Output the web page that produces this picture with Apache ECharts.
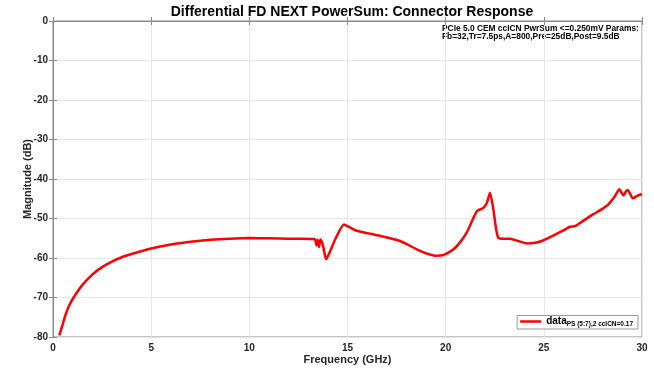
<!DOCTYPE html>
<html>
<head>
<meta charset="utf-8">
<script src="https://cdn.jsdelivr.net/npm/echarts@6/dist/echarts.min.js"></script>
<style>
  html, body { margin: 0; padding: 0; background: #fff; }
  #main { width: 654px; height: 370px; }
</style>
</head>
<body>
<div id="main"></div>
<script>
// frequency points (GHz)
var freq = [0.32, 0.45, 0.6, 0.8, 1.05, 1.5, 2, 2.5, 3, 3.5, 4, 5, 6, 7, 8, 9, 10, 11, 12, 13.2,
  13.35, 13.42, 13.48, 13.55, 13.62, 13.7, 13.78, 13.91, 14.1, 14.4, 14.82, 15.1, 15.47, 16, 16.66,
  17.68, 18.53, 19, 19.46, 19.9, 20.4, 20.8, 21.1, 21.4, 21.6, 21.92, 22.1, 22.26, 22.43, 22.55, 22.68,
  23, 23.28, 23.7, 24.13, 24.5, 24.9, 25.5, 26, 26.34, 26.6, 27, 27.53, 28, 28.29, 28.6, 28.85,
  28.95, 29.06, 29.17, 29.27, 29.4, 29.53, 29.75, 29.99];
// magnitude (dB)
var magnitude = [-79.6, -77.5, -75, -72.3, -70, -66.8, -64.2, -62.3, -60.9, -59.8, -59, -57.6, -56.6, -55.9, -55.4, -55.1, -54.95, -55, -55.1, -55.2,
  -55.3, -56.8, -55.4, -57.2, -55.3, -56, -57.5, -60.3, -58.5, -55, -51.5, -52.2, -53.1, -53.7, -54.4,
  -55.7, -57.8, -58.8, -59.4, -59.2, -57.8, -55.6, -53.3, -50, -48.1, -47.3, -46, -43.5, -47.7, -52, -54.9,
  -55.1, -55.1, -55.7, -56.3, -56.2, -55.7, -54.3, -53, -52.1, -51.9, -50.6, -48.9, -47.5, -46.4, -44.5, -42.6,
  -43.4, -44.2, -43.2, -42.8, -43.8, -44.9, -44.3, -43.8];

var xTicks = [0, 30, 5];
var yTicks = [-80, 0, 10];

var chart = echarts.init(document.getElementById('main'), null, { renderer: 'canvas' });

var seriesData = freq.map(function (f, i) { return [f, magnitude[i]]; });

var font = 'Liberation Sans, Arial, sans-serif';
var axisGray = '#8a8a8a';
var gridGray = '#e6e6e6';
var labelColor = '#262626';

chart.setOption({
  backgroundColor: '#fff',
  animation: false,
  title: {
    text: 'Differential FD NEXT PowerSum: Connector Response',
    left: 347,
    textAlign: 'center',
    top: 0,
    textStyle: { fontFamily: font, fontSize: 14, fontWeight: 'bold', color: '#000' }
  },
  grid: { left: 53, right: 12, top: 21, bottom: 32, show: true, borderColor: axisGray, borderWidth: 1 },
  legend: {
    right: 16,
    bottom: 41,
    orient: 'vertical',
    icon: 'rect',
    itemWidth: 21,
    itemHeight: 2.5,
    itemGap: 0,
    padding: [1, 5, 1, 3],
    borderColor: '#999',
    borderWidth: 1,
    backgroundColor: '#fff',
    formatter: function () { return '{a|data}{b|PS (5:7),2 ccICN=0.17}'; },
    textStyle: {
      fontFamily: font,
      color: '#000',
      rich: {
        a: { fontSize: 10, fontWeight: 'bold', fontFamily: font, color: '#000' },
        b: { fontSize: 6.5, fontWeight: 'bold', fontFamily: font, color: '#000', padding: [6, 0, 0, 0] }
      }
    },
    data: ['data']
  },
  xAxis: [{
    type: 'value',
    min: xTicks[0], max: xTicks[1], interval: xTicks[2],
    name: 'Frequency (GHz)',
    nameLocation: 'middle',
    nameGap: 17,
    nameMoveOverlap: false,
    nameTextStyle: { fontFamily: font, fontSize: 11, fontWeight: 'bold', color: labelColor },
    axisLine: { show: true, lineStyle: { color: axisGray } },
    axisTick: { show: true, inside: true, length: 4, lineStyle: { color: axisGray } },
    axisLabel: { fontFamily: font, fontSize: 10, fontWeight: 'bold', color: labelColor, margin: 6 },
    splitLine: { show: true, lineStyle: { color: gridGray } }
  }, {
    type: 'value', position: 'top',
    min: xTicks[0], max: xTicks[1], interval: xTicks[2],
    axisLine: { show: true, lineStyle: { color: axisGray } },
    axisTick: { show: true, inside: true, length: 4, lineStyle: { color: axisGray } },
    axisLabel: { show: false },
    splitLine: { show: false }
  }],
  yAxis: [{
    type: 'value',
    min: yTicks[0], max: yTicks[1], interval: yTicks[2],
    name: 'Magnitude (dB)',
    nameLocation: 'middle',
    nameGap: 20,
    nameMoveOverlap: false,
    nameTextStyle: { fontFamily: font, fontSize: 11, fontWeight: 'bold', color: labelColor },
    axisLine: { show: true, lineStyle: { color: axisGray } },
    axisTick: { show: true, inside: true, length: 4, lineStyle: { color: axisGray } },
    axisLabel: { fontFamily: font, fontSize: 10, fontWeight: 'bold', color: labelColor, margin: 5 },
    splitLine: { show: true, lineStyle: { color: gridGray } }
  }, {
    type: 'value', position: 'right',
    min: yTicks[0], max: yTicks[1], interval: yTicks[2],
    axisLine: { show: true, lineStyle: { color: axisGray } },
    axisTick: { show: true, inside: true, length: 4, lineStyle: { color: axisGray } },
    axisLabel: { show: false },
    splitLine: { show: false }
  }],
  graphic: [{
    type: 'text',
    left: 442,
    top: 25,
    style: {
      text: 'PCIe 5.0 CEM ccICN PwrSum <=0.250mV Params:\nFb=32,Tr=7.5ps,A=800,Pre=25dB,Post=9.5dB',
      font: 'bold 8.4px Liberation Sans, Arial, sans-serif',
      lineHeight: 8,
      fill: '#000'
    }
  }],
  series: [{
    name: 'data',
    type: 'line',
    data: seriesData,
    showSymbol: false,
    smooth: 0.2,
    color: '#ff0000',
    lineStyle: { width: 2.5, color: '#ff0000' },
    z: 5
  }]
});
</script>
</body>
</html>
